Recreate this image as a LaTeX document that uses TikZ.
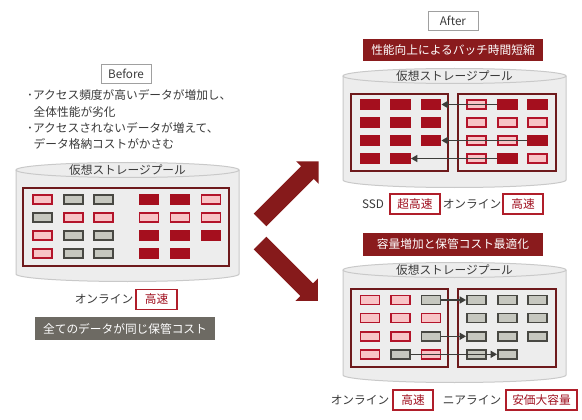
\documentclass[tikz,border=0pt]{standalone}
\usepackage{fontspec}
\setmainfont{Noto Sans CJK JP}
\usetikzlibrary{arrows.meta}
\definecolor{cellred}{HTML}{A50F1E}
\definecolor{pinkfill}{HTML}{F8C4C6}
\definecolor{pinkline}{HTML}{B3142A}
\definecolor{grayfill}{HTML}{C6C7BF}
\definecolor{grayline}{HTML}{484843}
\definecolor{framered}{HTML}{6E1A1C}
\definecolor{bannerred}{HTML}{8A1B1D}
\definecolor{bigred}{HTML}{861A1B}
\definecolor{barfill}{HTML}{6D6A63}
\definecolor{cylfill}{HTML}{EDEDED}
\definecolor{cylline}{HTML}{C9C9C9}
\definecolor{lblred}{HTML}{B01E2A}
\definecolor{lbltext}{HTML}{A0101F}
\definecolor{txt}{HTML}{3A3A3A}
\definecolor{boxgray}{HTML}{A0A0A0}
\definecolor{arrowgray}{HTML}{3D3D3A}
\tikzset{
  basefont/.style={font=\fontsize{11.7}{13}\selectfont},
  cellbase/.style={inner sep=0pt, minimum width=19pt, minimum height=9pt, line width=1.8pt},
  cellp/.style={cellbase, draw=pinkline, fill=pinkfill},
  cellg/.style={cellbase, draw=grayline, fill=grayfill},
  cellr/.style={cellbase, draw=cellred, fill=cellred},
  framebox/.style={draw=framered, line width=2pt},
  garrow/.style={draw=arrowgray, line width=1.6pt, -{Triangle[length=6.5pt,width=7pt]}},
  lbox/.style={basefont, draw=lblred, line width=1.6pt, fill=white, text=lbltext, inner sep=0pt, minimum height=20pt},
  banner/.style={basefont, fill=bannerred, text=white, inner sep=0pt, minimum width=180pt, minimum height=22pt},
  graybar/.style={basefont, fill=barfill, text=white, inner sep=0pt, minimum width=180pt, minimum height=23pt},
  plain/.style={basefont, text=txt, inner sep=0pt},
  tagbox/.style={basefont, text=txt, draw=boxgray, line width=0.8pt, inner sep=0pt, minimum width=50pt, minimum height=19pt},
  cylfillst/.style={fill=cylfill},
  cyllinest/.style={draw=cylline, line width=1pt},
  bigarrow/.style={fill=bigred}
}
\newcommand\mycyl[4]{%
  \pgfmathsetmacro\cylcx{(#1+#2)/2}%
  \pgfmathsetmacro\cylrx{(#2-#1)/2}%
  \fill[cylfillst] (#1,#3) rectangle (#2,#4);
  \fill[cylfillst] (\cylcx,#4) ellipse[x radius={\cylrx pt}, y radius=7.5pt];
  \draw[cyllinest] (#1,#3) -- (#1,#4) arc[start angle=180,end angle=360,x radius={\cylrx pt},y radius=7.5pt] -- (#2,#3);
  \draw[cyllinest,cylfillst] (\cylcx,#3) ellipse[x radius={\cylrx pt}, y radius=7.5pt];
}
\newcommand\cellgrid[4]{%
  \foreach \rowl [count=\ri from 0] in {#4} {
    \foreach \ctype [count=\ci from 0] in \rowl {
      \if\ctype n\else
        \pgfmathsetmacro\cellx{{#2}[\ci]}
        \pgfmathsetmacro\celly{{#3}[\ri]}
        \node[cell\ctype] (#1\ri\ci) at (\cellx,\celly) {};
      \fi
    }
  }
}
\begin{document}
\begin{tikzpicture}[x=1pt,y=-1pt]
\useasboundingbox (0,0) rectangle (582,420);
\fill[white] (0,0) rectangle (582,420);

% ---------- Before ----------
\node[tagbox] (before) at (126,73.5) {Before};
\node[plain, anchor=west] (b1) at (27,95.5) {･アクセス頻度が高いデータが増加し、};
\node[plain, anchor=west] (b2) at (33.5,112) {全体性能が劣化};
\node[plain, anchor=west] (b3) at (27,128) {･アクセスされないデータが増えて、};
\node[plain, anchor=west] (b4) at (33.5,143.5) {データ格納コストがかさむ};

\mycyl{16}{239}{170}{274}
\node[plain] (lt) at (127.5,170) {仮想ストレージプール};
\draw[framebox] (23,188) rectangle (229,266);
\cellgrid{L}{42.5,73.5,103.5,149,180,211}{199.5,217.5,235.5,253.5}{{p,g,g,r,r,p},{g,p,p,p,p,p},{p,g,g,r,r,r},{p,g,g,r,r,n}}

\node[plain] (lon) at (104,299) {オンライン};
\node[lbox, minimum width=41pt] (lfast) at (156.5,299.5) {高速};
\node[graybar] (lbar) at (125,328.5) {全てのデータが同じ保管コスト};

% ---------- big arrows ----------
\fill[bigarrow, shift={(260,220)}, rotate=45] (0,-9) -- (67,-9) -- (67,-16) -- (83,0) -- (67,16) -- (67,9) -- (0,9) -- cycle;
\fill[bigarrow, shift={(260,243)}, rotate=-45] (0,-9) -- (66,-9) -- (66,-16) -- (82,0) -- (66,16) -- (66,9) -- (0,9) -- cycle;

% ---------- After (top) ----------
\node[tagbox] (after) at (453,20.5) {After};
\node[banner] (tban) at (453,50) {性能向上によるバッチ時間短縮};
\mycyl{343}{566}{76}{180}
\node[plain] (tt) at (454.5,76) {仮想ストレージプール};
\draw[framebox] (351,94) rectangle (448,171);
\draw[framebox] (458,94) rectangle (556,171);
\cellgrid{T}{370,400.5,431,476.5,507.5,537.5}{104.5,122.5,140.5,158.5}{{r,r,r,p,r,r},{r,r,r,p,p,p},{r,r,r,p,p,r},{r,r,n,p,r,p}}
\draw[garrow] (T04.west) -- (T02.east);
\draw[garrow] (T25.west) -- (T22.east);
\draw[garrow] (T34.west) -- (T31.east);

\node[plain] (tssd) at (373,204) {SSD};
\node[lbox, minimum width=50pt] (tsuper) at (415,204) {超高速};
\node[plain] (ton) at (472,204) {オンライン};
\node[lbox, minimum width=40pt] (tfast) at (523,204) {高速};

% ---------- After (bottom) ----------
\node[banner, minimum height=23pt] (bban) at (453,244.5) {容量増加と保管コスト最適化};
\mycyl{343}{566}{270}{375}
\node[plain] (bt) at (454.5,270) {仮想ストレージプール};
\draw[framebox] (351,289) rectangle (448,367);
\draw[framebox] (458,289) rectangle (556,367);
\cellgrid{B}{370,400.5,431,476.5,507.5,537.5}{300,318,336.3,354.3}{{p,p,g,g,g,g},{p,p,p,g,g,g},{p,p,g,g,g,g},{p,g,p,g,g,n}}
\draw[garrow] (B02.east) -- (B03.west);
\draw[garrow] (B22.east) -- (B23.west);
\draw[garrow] (B31.east) -- (B34.west);

\node[plain] (bon) at (360,400) {オンライン};
\node[lbox, minimum width=40pt] (bfast) at (413,400) {高速};
\node[plain] (bnear) at (472,400) {ニアライン};
\node[lbox, minimum width=71pt] (bcheap) at (541.5,400) {安価大容量};
\end{tikzpicture}
\end{document}
